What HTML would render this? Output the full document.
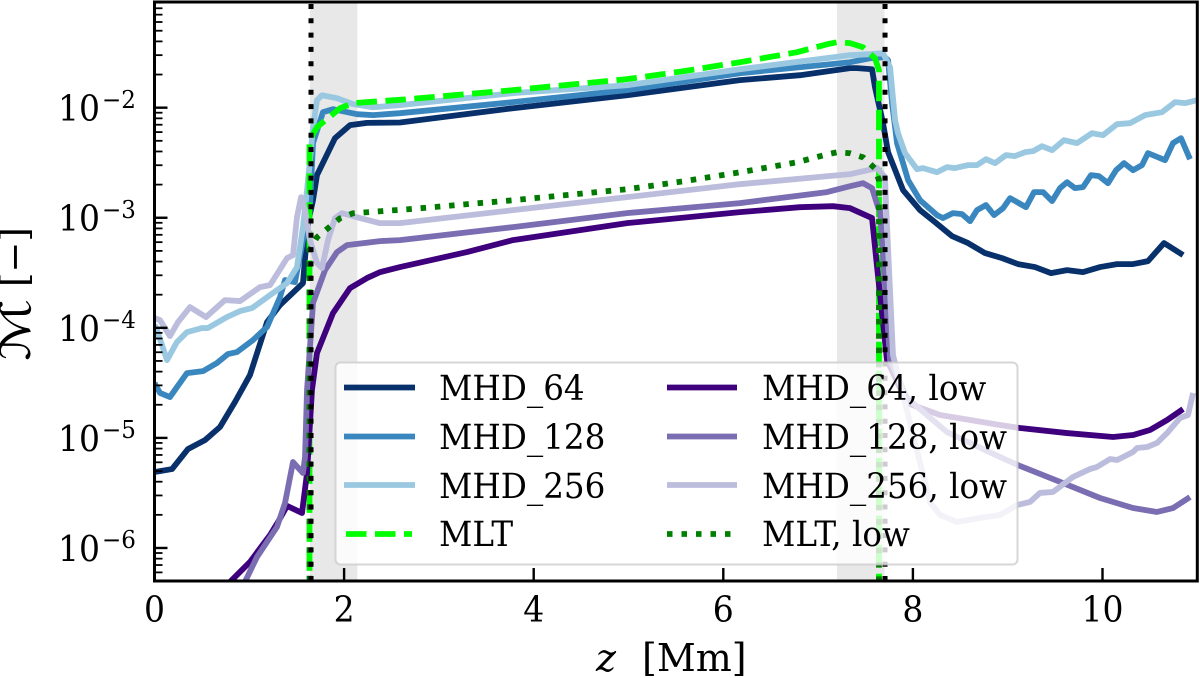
<!DOCTYPE html>
<html lang="en">
<head>
<meta charset="utf-8">
<title>Mach number profile</title>
<style>
html,body{margin:0;padding:0;background:#fff;}
svg{display:block;}
text{font-family:"DejaVu Serif","Liberation Serif",serif;fill:#000;}
.tick-text{font-size:33px;}
.legend-text{font-size:32.6px;}
</style>
</head>
<body>
<svg id="chart" xmlns="http://www.w3.org/2000/svg" width="1200" height="678" viewBox="0 0 1200 678">
<defs><clipPath id="plot-clip"><rect x="154.5" y="2" width="1042.8" height="579"/></clipPath></defs>
<rect x="0" y="0" width="1200" height="678" fill="#ffffff"/>
<g id="bands"></g>
<g id="series" clip-path="url(#plot-clip)"></g>
<g id="vlines" clip-path="url(#plot-clip)"></g>
<g id="ticks"></g>
<rect x="154.5" y="2" width="1042.8" height="579" fill="none" stroke="#000" stroke-width="3"/>
<text x="596" y="671" font-size="38"><tspan font-style="italic">z</tspan><tspan dx="26">[Mm]</tspan></text>
<g>
<text transform="translate(30,361) rotate(-90) scale(1,0.72)" font-size="58" font-family="'DejaVu Sans','DejaVu Serif',serif">ℳ</text>
<text transform="translate(27,287) rotate(-90)" font-size="37">[−]</text>
</g>
<g>
<rect x="335.5" y="362.5" width="682" height="202" rx="5" ry="5" fill="#ffffff" fill-opacity="0.8" stroke="#cccccc" stroke-opacity="0.8" stroke-width="2"/>
<g><line x1="344" x2="415" y1="387.5" y2="387.5" stroke="#08306b" stroke-width="5.8"/><text class="legend-text" x="439" y="400">MHD_64</text></g>
<g><line x1="344" x2="415" y1="436.5" y2="436.5" stroke="#3a87bf" stroke-width="5.8"/><text class="legend-text" x="439" y="449">MHD_128</text></g>
<g><line x1="344" x2="415" y1="485" y2="485" stroke="#9ac8e1" stroke-width="5.8"/><text class="legend-text" x="439" y="498">MHD_256</text></g>
<g><line x1="346" x2="412" y1="534" y2="534" stroke="#00ff00" stroke-width="5.8" stroke-dasharray="20.5 8.5"/><text class="legend-text" x="439" y="546">MLT</text></g>
<g><line x1="667" x2="737" y1="387.5" y2="387.5" stroke="#3f007d" stroke-width="5.8"/><text class="legend-text" x="762" y="400">MHD_64, low</text></g>
<g><line x1="667" x2="737" y1="436.5" y2="436.5" stroke="#7a6db2" stroke-width="5.8"/><text class="legend-text" x="762" y="449">MHD_128, low</text></g>
<g><line x1="667" x2="737" y1="485" y2="485" stroke="#bcbddc" stroke-width="5.8"/><text class="legend-text" x="762" y="498">MHD_256, low</text></g>
<g><line x1="667" x2="737" y1="534" y2="534" stroke="#008000" stroke-width="5.8" stroke-dasharray="5.5 9"/><text class="legend-text" x="762" y="546">MLT, low</text></g>
</g>
</svg>
<script>
// Tick labels and axis limits
const xTickValues = [0, 2, 4, 6, 8, 10];
const yTickExponents = [-2, -3, -4, -5, -6];
const yMinorMantissas = [2, 3, 4, 5, 6, 7, 8, 9];
const yMinorExponents = [-7, -6, -5, -4, -3, -2];
const xLimits = [0, 11];
const yLogLimits = [-6.3, -1.04];

// Shaded band limits and vertical boundaries (z in Mm)
const bandStarts = [1.64, 7.2];
const bandEnds = [2.14, 7.7];
const boundaryZ = [1.651, 7.706];

// Series: z in Mm, value as log10 of the Mach number
const mhd64Z = [0,.185,.353,.533,.691,.849,1.007,1.187,1.324,1.566,1.619,1.672,1.714,1.904,2.062,2.241,2.59,3.782,4.984,6.176,6.809,7.337,7.41,7.569,7.6,7.685,7.738,7.896,8.075,8.233,8.413,8.582,8.761,8.941,9.109,9.288,9.457,9.626,9.794,9.974,10.153,10.322,10.48,10.649,10.85];
const mhd64LogM = [-5.31,-5.283,-5.101,-5.02,-4.901,-4.674,-4.429,-3.948,-3.793,-3.594,-3.049,-2.84,-2.613,-2.277,-2.159,-2.138,-2.135,-2.005,-1.887,-1.75,-1.705,-1.641,-1.641,-1.651,-1.814,-2.141,-2.404,-2.749,-2.931,-3.04,-3.167,-3.23,-3.321,-3.367,-3.421,-3.448,-3.503,-3.476,-3.494,-3.448,-3.421,-3.421,-3.394,-3.23,-3.339];

const mhd128Z = [0,.058,.163,.237,.343,.512,.659,.775,.87,1.039,1.187,1.324,1.377,1.482,1.566,1.64,1.672,1.777,1.883,2.136,2.305,2.59,3.782,4.984,6.176,7.337,7.548,7.706,7.738,7.78,7.833,7.949,8.075,8.254,8.317,8.423,8.518,8.603,8.676,8.771,8.856,8.951,9.025,9.193,9.278,9.373,9.468,9.552,9.626,9.71,9.794,9.879,9.963,10.058,10.143,10.227,10.322,10.417,10.48,10.66,10.744,10.828,10.923];
const mhd128LogM = [-4.502,-4.592,-4.629,-4.538,-4.411,-4.393,-4.32,-4.238,-4.22,-4.111,-3.993,-3.721,-3.566,-3.585,-3.203,-2.904,-2.322,-2.041,-2.014,-2.059,-2.068,-2.05,-1.95,-1.841,-1.687,-1.587,-1.551,-1.542,-1.569,-1.959,-2.322,-2.658,-2.84,-2.976,-3.003,-2.958,-2.967,-3.031,-2.931,-2.885,-2.976,-2.913,-2.822,-2.904,-2.767,-2.767,-2.849,-2.731,-2.677,-2.731,-2.722,-2.613,-2.622,-2.686,-2.568,-2.504,-2.568,-2.522,-2.413,-2.477,-2.322,-2.277,-2.468];

const mhd256Z = [0,.026,.132,.237,.343,.501,.564,.765,.902,1.028,1.25,1.398,1.503,1.566,1.609,1.64,1.672,1.714,1.767,1.925,2.094,2.305,2.59,3.782,4.984,6.176,7.337,7.548,7.685,7.759,7.812,7.843,7.917,8.044,8.107,8.254,8.36,8.444,8.582,8.676,8.771,8.866,8.982,9.077,9.183,9.267,9.362,9.468,9.594,9.731,9.889,10.005,10.153,10.29,10.448,10.628,10.765,10.871,10.997];
const mhd256LogM = [-3.975,-4.02,-4.293,-4.129,-4.039,-4.002,-4.002,-3.902,-3.848,-3.821,-3.684,-3.594,-3.448,-3.085,-2.749,-2.477,-2.177,-1.932,-1.887,-1.914,-1.968,-1.996,-1.977,-1.868,-1.796,-1.651,-1.523,-1.514,-1.505,-1.632,-2.114,-2.232,-2.413,-2.559,-2.549,-2.586,-2.54,-2.549,-2.522,-2.522,-2.468,-2.504,-2.431,-2.44,-2.404,-2.395,-2.35,-2.386,-2.295,-2.322,-2.232,-2.25,-2.15,-2.141,-2.068,-2.041,-1.95,-1.959,-1.932];

const mltZ = [1.635,1.635,1.714,1.957,2.094,2.674,3.782,4.984,5.575,6.176,6.778,7.094,7.2,7.337,7.474,7.6,7.642,7.642];
const mltLogM = [-6.472,-2.295,-2.177,-2.005,-1.959,-1.923,-1.841,-1.741,-1.669,-1.587,-1.496,-1.424,-1.405,-1.414,-1.451,-1.551,-1.66,-6.472];

const mhd64LowZ = [.712,1.007,1.219,1.303,1.398,1.556,1.609,1.661,1.714,1.883,2.062,2.241,2.379,2.59,3.296,3.782,4.984,6.176,6.809,7.157,7.337,7.569,7.622,7.727,7.938,8.286,8.919,9.13,9.626,10.111,10.322,10.501,10.681,10.85];
const mhd64LowLogM = [-6.381,-6.127,-5.882,-5.764,-5.618,-5.682,-5.319,-4.565,-4.229,-3.866,-3.639,-3.548,-3.494,-3.448,-3.312,-3.203,-3.049,-2.949,-2.904,-2.895,-2.913,-3.003,-3.448,-4.293,-4.683,-4.792,-4.883,-4.91,-4.956,-4.992,-4.974,-4.928,-4.838,-4.738];

const mhd128LowZ = [.902,1.081,1.292,1.377,1.461,1.566,1.588,1.609,1.672,1.799,1.925,2.031,2.379,2.59,3.782,4.984,6.176,7.094,7.337,7.474,7.569,7.632,7.653,7.759,7.938,8.36,8.919,9.13,9.584,9.974,10.322,10.575,10.744,10.923];
const mhd128LowLogM = [-6.4,-6.082,-5.809,-5.591,-5.219,-5.319,-5.174,-4.565,-3.775,-3.476,-3.312,-3.249,-3.212,-3.203,-3.085,-2.958,-2.867,-2.767,-2.713,-2.686,-2.731,-2.904,-2.931,-4.293,-4.638,-4.947,-5.174,-5.255,-5.41,-5.546,-5.637,-5.673,-5.637,-5.537];

const mhd256LowZ = [0,.058,.163,.248,.374,.543,.744,.902,1.113,1.219,1.398,1.461,1.503,1.546,1.588,1.64,1.714,1.767,1.83,1.904,1.978,2.168,2.379,2.59,3.782,4.984,6.176,7.337,7.622,7.706,7.717,7.79,8.18,8.286,8.465,8.708,8.919,9.098,9.235,9.34,9.478,9.689,9.868,9.942,10.079,10.153,10.322,10.364,10.47,10.575,10.681,10.818,10.902,10.955];
const mhd256LowLogM = [-3.911,-3.93,-4.075,-3.948,-3.812,-3.902,-3.748,-3.757,-3.63,-3.612,-3.367,-3.34,-2.994,-2.813,-2.931,-3.203,-3.412,-3.457,-3.203,-3.003,-2.958,-3.003,-3.049,-3.049,-2.931,-2.813,-2.695,-2.604,-2.549,-2.631,-2.885,-4.247,-5.582,-5.7,-5.764,-5.727,-5.7,-5.61,-5.582,-5.5,-5.491,-5.355,-5.283,-5.264,-5.192,-5.201,-5.128,-5.092,-5.083,-5.046,-4.956,-4.819,-4.792,-4.592];

const mltLowZ = [1.635,1.635,1.714,1.957,2.094,2.674,3.782,4.984,5.575,6.176,6.778,7.094,7.2,7.337,7.474,7.6,7.642,7.642];
const mltLowLogM = [-7.472,-3.295,-3.177,-3.005,-2.959,-2.923,-2.841,-2.741,-2.669,-2.587,-2.496,-2.424,-2.405,-2.414,-2.451,-2.551,-2.66,-7.472];

// Axis functions
const plotLeft = 154.5, plotRight = 1197.3, plotTop = 2, plotBottom = 581;
function xScale(z) {
  return plotLeft + (z - xLimits[0]) / (xLimits[1] - xLimits[0]) * (plotRight - plotLeft);
}
function yScale(logM) {
  return plotBottom - (logM - yLogLimits[0]) / (yLogLimits[1] - yLogLimits[0]) * (plotBottom - plotTop);
}

const SVG_NS = 'http://www.w3.org/2000/svg';
const bandsGroup = document.getElementById('bands');
const seriesGroup = document.getElementById('series');
const vlinesGroup = document.getElementById('vlines');
const ticksGroup = document.getElementById('ticks');

bandStarts.forEach(function (start, i) {
  const band = document.createElementNS(SVG_NS, 'rect');
  
  
  band.setAttribute('x', xScale(start));
  band.setAttribute('y', plotTop);
  band.setAttribute('width', xScale(bandEnds[i]) - xScale(start));
  band.setAttribute('height', plotBottom - plotTop);
  band.setAttribute('fill', '#e8e8e8');
  bandsGroup.appendChild(band);
});

function drawSeries(name, zs, logs, color, dash) {
  const line = document.createElementNS(SVG_NS, 'polyline');
  
  
  line.setAttribute('points', zs.map(function (z, i) {
    return xScale(z).toFixed(2) + ',' + yScale(logs[i]).toFixed(2);
  }).join(' '));
  line.setAttribute('fill', 'none');
  line.setAttribute('stroke', color);
  line.setAttribute('stroke-width', '5.8');
  line.setAttribute('stroke-linejoin', 'round');
  if (dash) {
    line.setAttribute('stroke-dasharray', dash);
  }
  seriesGroup.appendChild(line);
}

drawSeries('series-mhd-64', mhd64Z, mhd64LogM, '#08306b');
drawSeries('series-mhd-128', mhd128Z, mhd128LogM, '#3a87bf');
drawSeries('series-mhd-256', mhd256Z, mhd256LogM, '#9ac8e1');
drawSeries('series-mlt', mltZ, mltLogM, '#00ff00', '20.5 8.5');
drawSeries('series-mhd-64-low', mhd64LowZ, mhd64LowLogM, '#3f007d');
drawSeries('series-mhd-128-low', mhd128LowZ, mhd128LowLogM, '#7a6db2');
drawSeries('series-mhd-256-low', mhd256LowZ, mhd256LowLogM, '#bcbddc');
drawSeries('series-mlt-low', mltLowZ, mltLowLogM, '#007a00', '5.5 8.8');

boundaryZ.forEach(function (z) {
  const vline = document.createElementNS(SVG_NS, 'line');
  
  
  vline.setAttribute('x1', xScale(z));
  vline.setAttribute('x2', xScale(z));
  vline.setAttribute('y1', plotBottom);
  vline.setAttribute('y2', plotTop);
  vline.setAttribute('stroke', '#000');
  vline.setAttribute('stroke-width', '5');
  vline.setAttribute('stroke-dasharray', '5 9.3');
  vlinesGroup.appendChild(vline);
});

function drawTick(name, x1, y1, x2, y2, width) {
  const tick = document.createElementNS(SVG_NS, 'line');
  
  
  tick.setAttribute('x1', x1);
  tick.setAttribute('y1', y1);
  tick.setAttribute('x2', x2);
  tick.setAttribute('y2', y2);
  tick.setAttribute('stroke', '#000');
  tick.setAttribute('stroke-width', width);
  ticksGroup.appendChild(tick);
}

xTickValues.forEach(function (value) {
  const x = xScale(value);
  drawTick('x-tick', x, plotBottom, x, plotBottom - 13, 2.4);
  const label = document.createElementNS(SVG_NS, 'text');
  
  
  label.setAttribute('class', 'tick-text');
  label.setAttribute('x', x);
  label.setAttribute('y', 621.7);
  label.setAttribute('text-anchor', 'middle');
  label.textContent = String(value);
  ticksGroup.appendChild(label);
});

yTickExponents.forEach(function (exponent) {
  const y = yScale(exponent);
  drawTick('y-tick', plotLeft, y, plotLeft + 13, y, 2.4);
  const label = document.createElementNS(SVG_NS, 'text');
  
  
  label.setAttribute('class', 'tick-text');
  label.setAttribute('x', 58);
  label.setAttribute('y', y + 13);
  const power = document.createElementNS(SVG_NS, 'tspan');
  
  
  power.setAttribute('font-size', '23');
  power.setAttribute('dy', '-12');
  power.setAttribute('dx', '2');
  power.textContent = '\u2212' + Math.abs(exponent);
  label.appendChild(document.createTextNode('10'));
  label.appendChild(power);
  ticksGroup.appendChild(label);
});

yMinorExponents.forEach(function (exponent) {
  yMinorMantissas.forEach(function (mantissa) {
    const logM = exponent + Math.log10(mantissa);
    if (logM > yLogLimits[0] && logM < yLogLimits[1]) {
      const y = yScale(logM);
      drawTick('y-minor-tick', plotLeft, y, plotLeft + 8, y, 1.8);
    }
  });
});

// The reference text is slightly taller than wide: stretch about each baseline
document.querySelectorAll('.tick-text, .legend-text').forEach(function (textEl) {
  const baseline = parseFloat(textEl.getAttribute('y'));
  textEl.setAttribute('transform', 'translate(0,' + baseline + ') scale(1,1.07) translate(0,' + (-baseline) + ')');
});
</script>
</body>
</html>
